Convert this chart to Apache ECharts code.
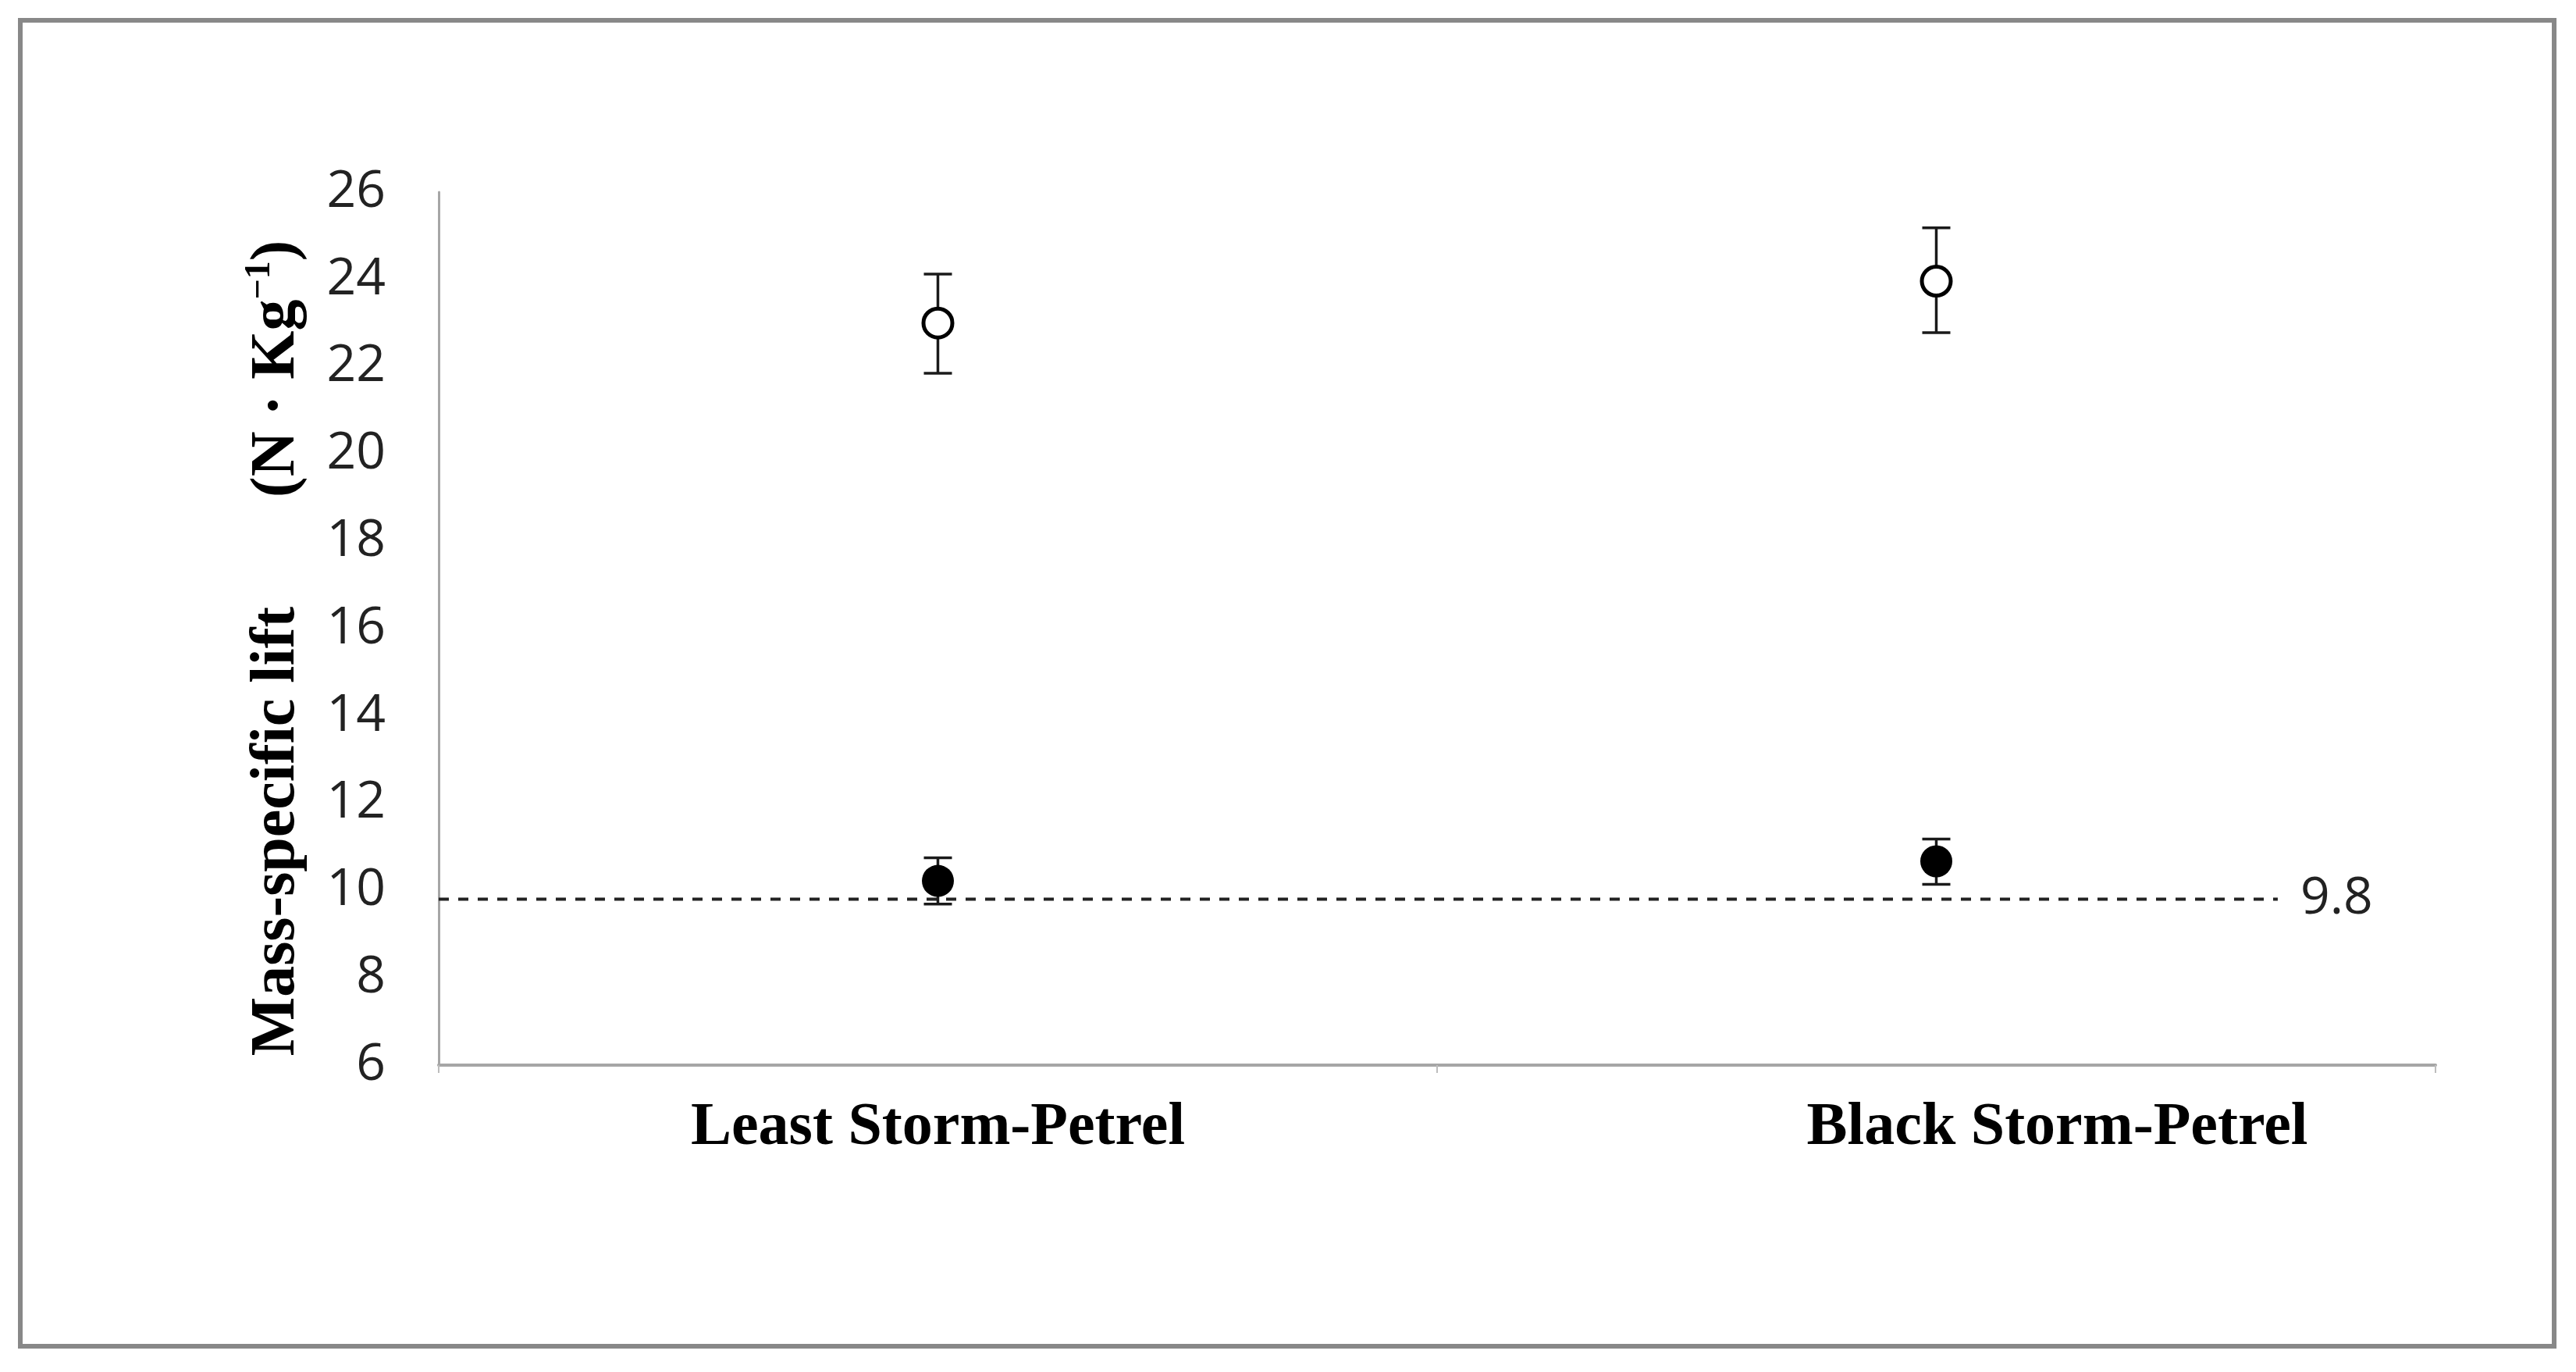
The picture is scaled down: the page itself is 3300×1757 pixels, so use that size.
<!DOCTYPE html>
<html>
<head>
<meta charset="utf-8">
<script src="https://cdn.jsdelivr.net/npm/echarts@6/dist/echarts.min.js"></script>
<style>
html,body{margin:0;padding:0;background:#fff;}
#chart{width:3300px;height:1757px;}
</style>
</head>
<body>
<div id="chart"></div>
<script>
// ---- data ----
const categories = ['Least Storm-Petrel', 'Black Storm-Petrel'];
const openMean = [23.0, 23.96];
const openLow = [21.85, 22.78];
const openHigh = [24.12, 25.18];
const filledMean = [10.22, 10.67];
const filledLow = [9.69, 10.14];
const filledHigh = [10.75, 11.18];
const gravityRef = 9.8;
const yTicks = { min: 6, max: 26, step: 2 };

const errOpen = categories.map((c, i) => [i, openLow[i], openHigh[i]]);
const errFilled = categories.map((c, i) => [i, filledLow[i], filledHigh[i]]);

// second category label sits to the right of its centre in the original
const categoryItems = categories.map((c, i) => i === 1
  ? { value: c, textStyle: { padding: [0, 0, 0, 310] } }
  : { value: c });

function errorBarRender(params, api) {
  const x = api.value(0);
  const lo = api.coord([x, api.value(1)]);
  const hi = api.coord([x, api.value(2)]);
  const half = 18;
  const style = { stroke: '#1a1a1a', lineWidth: 3.5 };
  return {
    type: 'group',
    children: [
      { type: 'line', shape: { x1: lo[0], y1: lo[1], x2: hi[0], y2: hi[1] }, style: style },
      { type: 'line', shape: { x1: lo[0] - half, y1: lo[1], x2: lo[0] + half, y2: lo[1] }, style: style },
      { type: 'line', shape: { x1: hi[0] - half, y1: hi[1], x2: hi[0] + half, y2: hi[1] }, style: style }
    ]
  };
}

const chart = echarts.init(document.getElementById('chart'), null, { renderer: 'canvas' });
const option = {
  animation: false,
  backgroundColor: '#ffffff',
  graphic: [{
    type: 'rect',
    shape: { x: 26, y: 26, width: 3246, height: 1698 },
    style: { fill: null, stroke: '#888888', lineWidth: 6 },
    silent: true
  }],
  grid: { left: 562, right: 180, top: 246, bottom: 393, containLabel: false, outerBoundsMode: 'none' },
  xAxis: [{
    type: 'category',
    data: categoryItems,
    boundaryGap: true,
    axisLine: { show: true, lineStyle: { color: '#a6a6a6', width: 4 } },
    axisTick: { show: true, length: 10, lineStyle: { color: '#bdbdbd', width: 2 } },
    axisLabel: {
      margin: 42,
      fontFamily: 'Liberation Serif',
      fontWeight: 'bold',
      fontSize: 78,
      color: '#000'
    },
    splitLine: { show: false }
  }, {
    type: 'value',
    min: 0,
    max: 1,
    show: false
  }],
  yAxis: {
    type: 'value',
    min: yTicks.min,
    max: yTicks.max,
    interval: yTicks.step,
    axisLine: { show: true, lineStyle: { color: '#a6a6a6', width: 3 } },
    axisTick: { show: false },
    splitLine: { show: false },
    axisLabel: {
      margin: 68,
      fontFamily: 'Open Sans',
      fontSize: 66,
      color: '#222'
    },
    name: '{m|Mass-specific lift       (N · Kg}{s|−1}{m|)}',
    nameLocation: 'middle',
    nameRotate: 90,
    nameGap: 162,
    nameTextStyle: {
      padding: [0, 50, 0, 0],
      rich: {
        m: { fontFamily: 'Liberation Serif', fontWeight: 'bold', fontSize: 80, lineHeight: 90, color: '#000' },
        s: { fontFamily: 'Liberation Serif', fontWeight: 'bold', fontSize: 46, lineHeight: 90, color: '#000', verticalAlign: 'top', padding: [0, 0, 34, 0] }
      }
    }
  },
  series: [
    {
      type: 'line',
      xAxisIndex: 1,
      yAxisIndex: 0,
      data: [[0, gravityRef], [0.921, gravityRef]],
      symbol: 'none',
      lineStyle: { color: '#222', width: 4, type: [13, 12] },
      endLabel: {
        show: true,
        formatter: String(gravityRef),
        distance: 29,
        fontFamily: 'Open Sans',
        fontSize: 66,
        color: '#222'
      },
      silent: true,
      z: 1
    },
    {
      type: 'custom',
      renderItem: errorBarRender,
      data: errOpen,
      encode: { x: 0, y: [1, 2] },
      z: 2
    },
    {
      type: 'custom',
      renderItem: errorBarRender,
      data: errFilled,
      encode: { x: 0, y: [1, 2] },
      z: 2
    },
    {
      type: 'scatter',
      data: openMean.map((v, i) => [i, v]),
      symbol: 'circle',
      symbolSize: 37,
      itemStyle: { color: '#fff', borderColor: '#000', borderWidth: 5, opacity: 1 },
      z: 3
    },
    {
      type: 'scatter',
      data: filledMean.map((v, i) => [i, v]),
      symbol: 'circle',
      symbolSize: 41,
      itemStyle: { color: '#000', opacity: 1 },
      z: 3
    }
  ]
};
chart.setOption(option);
</script>
</body>
</html>
